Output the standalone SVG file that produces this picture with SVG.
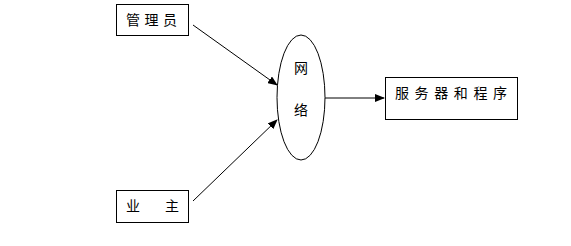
<svg xmlns="http://www.w3.org/2000/svg" width="571" height="246" viewBox="0 0 571 246">
<style>
.box{fill:#fff;stroke:#000;stroke-width:1}
.t{font-family:"Noto Sans CJK SC",sans-serif;font-size:14px;fill:#000}
.c{stroke:#000;stroke-width:1;fill:none}
</style>
<defs>
<marker id="ah" markerWidth="10" markerHeight="8" refX="9" refY="4" orient="auto" markerUnits="userSpaceOnUse">
<path d="M0,0 L10,4 L0,8 z" fill="#000"/>
</marker>
</defs>
<rect width="571" height="246" fill="#fff"/>
<g id="connectors">
<line class="c" x1="193" y1="25" x2="277" y2="85" marker-end="url(#ah)"/>
<line class="c" x1="193" y1="201" x2="277" y2="120" marker-end="url(#ah)"/>
<line class="c" x1="325" y1="98" x2="384" y2="98" marker-end="url(#ah)"/>
</g>
<g id="admin">
<rect class="box" x="116.5" y="4.5" width="72" height="31"/>
<text class="t" x="126" y="25" letter-spacing="4.5">管理员</text>
</g>
<g id="owner">
<rect class="box" x="116.5" y="190.5" width="72" height="32"/>
<text class="t" x="126" y="211">业</text>
<text class="t" x="165" y="211">主</text>
</g>
<g id="network">
<ellipse class="box" cx="301" cy="97.5" rx="24" ry="62.5"/>
<text class="t" x="301" y="73" text-anchor="middle">网</text>
<text class="t" x="301" y="115" text-anchor="middle">络</text>
</g>
<g id="server">
<rect class="box" x="385.5" y="77.5" width="132" height="42"/>
<text class="t" x="395" y="98" letter-spacing="5.6">服务器和程序</text>
</g>
</svg>
